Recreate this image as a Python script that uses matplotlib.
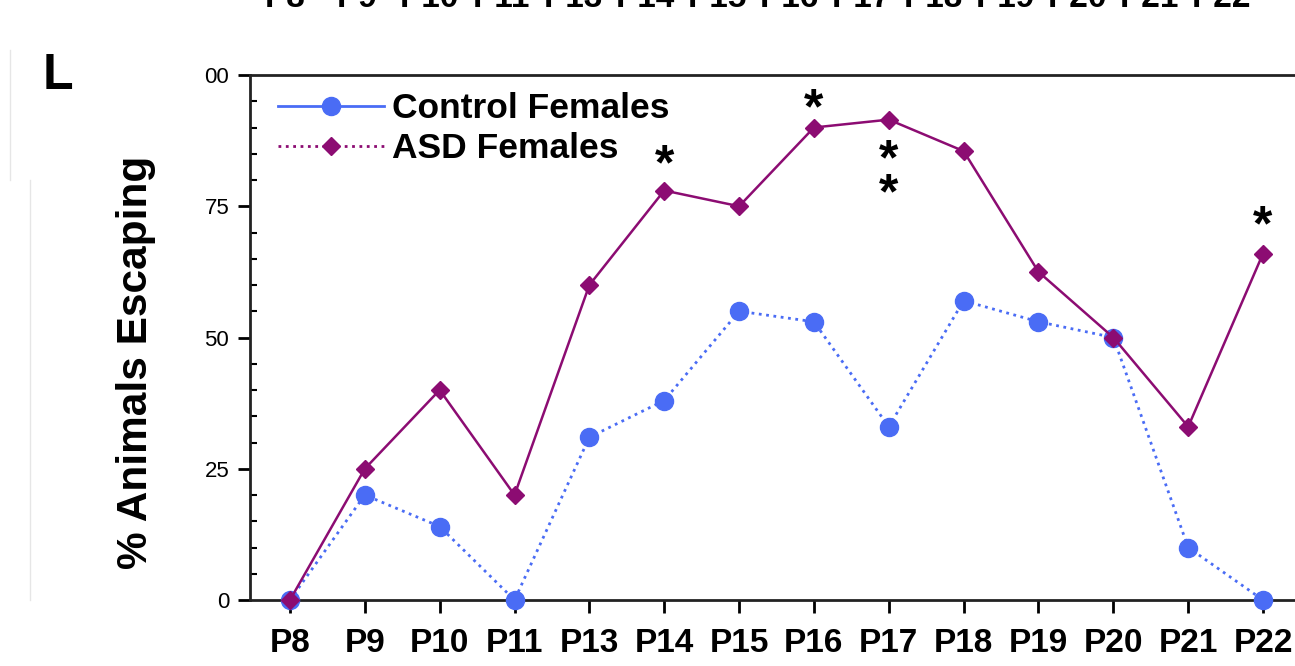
import matplotlib.pyplot as plt
from matplotlib.lines import Line2D
from matplotlib.ticker import MultipleLocator

plt.rcParams['font.family'] = ['Liberation Sans', 'DejaVu Sans']

days = ["P8", "P9", "P10", "P11", "P13", "P14", "P15", "P16", "P17", "P18", "P19", "P20", "P21", "P22"]
control = [0, 20, 14, 0, 31, 38, 55, 53, 33, 57, 53, 50, 10, 0]
asd = [0, 25, 40, 20, 60, 78, 75, 90, 91.5, 85.5, 62.5, 50, 33, 66]

# significance marks: (day index, y of the asterisk centre, text)
stars = [(5, 84.4, "*"), (7, 95.2, "*"), (8, 82.35, "*\n*"), (13, 72.8, "*")]

blue = "#4a6cf5"
purple = "#8c0c72"

fig = plt.figure(figsize=(12.95, 6.66), dpi=100)
ax = fig.add_axes([250 / 1295, 66 / 666, 1060 / 1295, 525 / 666])

x = list(range(len(days)))
ax.plot(x, control, color=blue, ls=":", lw=2, marker="o", ms=13,
        mfc=blue, mec=blue, clip_on=False, zorder=3)
ax.plot(x, asd, color=purple, ls="-", lw=1.8, marker="D", ms=9,
        mfc=purple, mec=purple, clip_on=False, zorder=4)

for i, yv, t in stars:
    if "\n" in t:
        ax.annotate(t, (i, yv), xytext=(0, -7.5), textcoords="offset points",
                    ha="center", va="center", fontsize=36, fontweight="bold",
                    linespacing=0.66)
    else:
        ax.annotate(t, (i, yv), xytext=(0, -16.5), textcoords="offset points",
                    ha="center", va="baseline", fontsize=36, fontweight="bold")

ax.set_xlim(-0.534, (1310 - 290) / 74.85)
ax.set_ylim(0, 100)
ax.set_xticks(x)
ax.set_xticklabels(days, fontsize=24, fontweight="bold")
ax.set_yticks([0, 25, 50, 75, 100])
ax.set_yticklabels(["0", "25", "50", "75", "00"], fontsize=16)
ax.yaxis.set_minor_locator(MultipleLocator(5))
ax.tick_params(axis="x", direction="out", length=9, width=2, pad=11)
ax.tick_params(axis="y", which="major", direction="out", length=9, width=2, pad=6)
ax.tick_params(axis="y", which="minor", direction="in", length=5, width=1.5)
for s in ["left", "top", "bottom"]:
    ax.spines[s].set_linewidth(2)
    ax.spines[s].set_color("#222222")
ax.spines["right"].set_visible(False)

ax.set_ylabel("% Animals Escaping", fontsize=30.5, fontweight="bold",
              labelpad=35, y=0.453)

handles = [
    Line2D([], [], color=blue, ls="-", lw=2, marker="o", ms=13, mfc=blue, mec=blue),
    Line2D([], [], color=purple, ls=":", lw=2, marker="D", ms=9, mfc=purple, mec=purple),
]
ax.legend(handles, ["Control Females", "ASD Females"], loc="upper left",
          bbox_to_anchor=(264 / 1295, 1 - 78 / 666), bbox_transform=fig.transFigure,
          frameon=False, prop={"size": 25.5, "weight": "bold"},
          handlelength=3.0, handletextpad=0.2, labelspacing=0.2, borderaxespad=0)

fig.text(58 / 1295, 1 - 76 / 666, "L", fontsize=36, fontweight="bold",
         ha="center", va="center")

# cropped tick labels from the panel above
for i, d in enumerate(days):
    fig.text((285 + i * 72) / 1295, 1 - 14 / 666, d, fontsize=24,
             fontweight="bold", ha="center", va="bottom")

# faint crop edges
fig.add_artist(Line2D([10 / 1295, 10 / 1295], [1 - 50 / 666, 1 - 180 / 666],
                      color="#e6e6e6", lw=1))
fig.add_artist(Line2D([30 / 1295, 30 / 1295], [1 - 180 / 666, 1 - 600 / 666],
                      color="#e6e6e6", lw=1))

fig.savefig("out.png", dpi=100)
